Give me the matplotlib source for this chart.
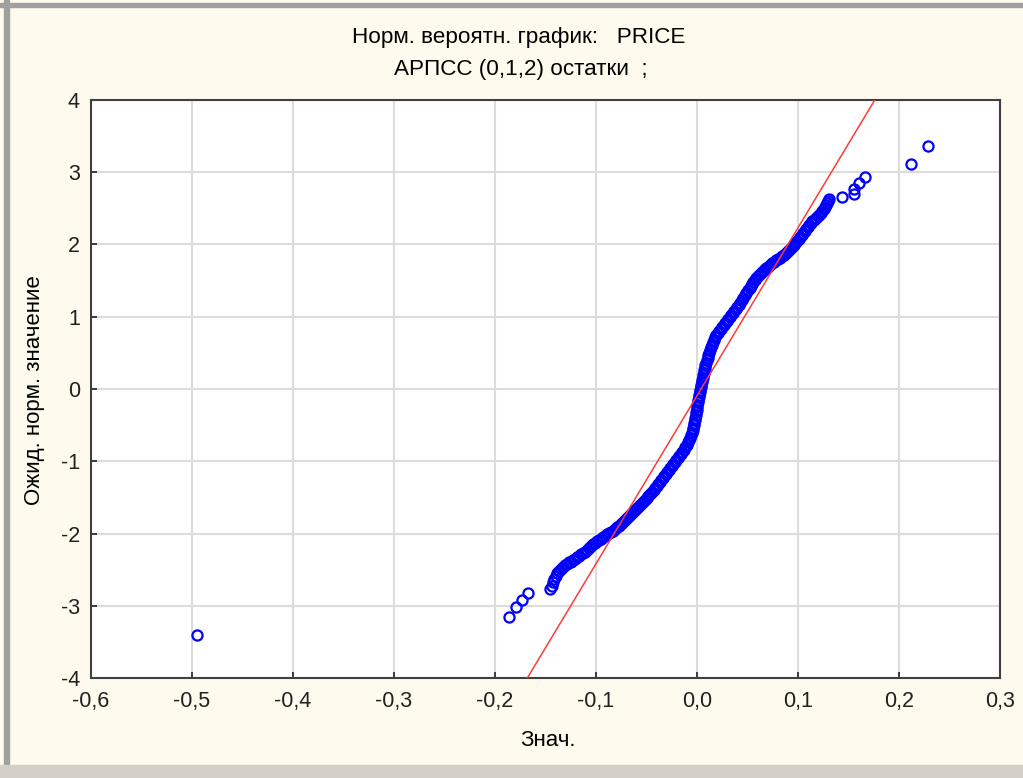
import numpy as np
import matplotlib
matplotlib.use("Agg")
import matplotlib.pyplot as plt
from matplotlib.ticker import FuncFormatter
from matplotlib.patches import Rectangle

plt.rcParams['font.family'] = ['Liberation Sans', 'DejaVu Sans']

# residuals (x) and expected normal values (y)
resid = [-0.495, -0.186, -0.179, -0.173, -0.167,
         # lower part of the band
         -0.1455, -0.1440, -0.1426, -0.1413, -0.1400, -0.1385, -0.1370, -0.1350, -0.1330, -0.1310,
         -0.1290, -0.1270, -0.1250, -0.1230, -0.1210, -0.1190, -0.1170, -0.1150, -0.1130, -0.1110,
         -0.1090, -0.1070, -0.1050, -0.1030, -0.1010, -0.0990, -0.0970, -0.0950, -0.0930, -0.0910,
         -0.0890, -0.0870, -0.0850, -0.0830, -0.0810, -0.0790, -0.0770, -0.0750, -0.0730, -0.0710,
         -0.0690, -0.0670, -0.0650, -0.0630, -0.0610, -0.0590, -0.0570, -0.0550, -0.0530, -0.0515,
         -0.0500, -0.0485, -0.0470, -0.0450, -0.0430, -0.0415, -0.0400, -0.0385, -0.0370, -0.0355,
         -0.0340, -0.0325, -0.0310, -0.0295, -0.0280, -0.0265, -0.0250, -0.0235, -0.0220, -0.0205,
         -0.0190, -0.0175, -0.0160, -0.0145, -0.0130,
         # steep middle
         -0.0115, -0.0099, -0.0089, -0.0079, -0.0069, -0.0059, -0.0050, -0.0040, -0.0035, -0.0030,
         -0.0025, -0.0020, -0.0015, -0.0010, -0.0005, 0.0000, 0.0000, 0.0000, 0.0005, 0.0010,
         0.0015, 0.0020, 0.0025, 0.0030, 0.0035, 0.0040, 0.0045, 0.0050, 0.0055, 0.0060,
         0.0065, 0.0070, 0.0075, 0.0080, 0.0090, 0.0100, 0.0105, 0.0110, 0.0120, 0.0130,
         0.0140, 0.0150, 0.0160, 0.0170, 0.0180, 0.0190, 0.0205, 0.0220,
         # upper part of the band
         0.0235, 0.0250, 0.0265, 0.0280, 0.0295, 0.0310, 0.0325, 0.0340, 0.0355, 0.0370,
         0.0385, 0.0400, 0.0415, 0.0430, 0.0445, 0.0460, 0.0475, 0.0490, 0.0505, 0.0520,
         0.0530, 0.0540, 0.0555, 0.0570, 0.0585, 0.0600, 0.0620, 0.0640, 0.0660, 0.0680,
         0.0700, 0.0720, 0.0740, 0.0760, 0.0780, 0.0800, 0.0820, 0.0840, 0.0860, 0.0880,
         0.0900, 0.0920, 0.0940, 0.0960, 0.0975, 0.0990, 0.1005, 0.1020, 0.1035, 0.1050,
         0.1065, 0.1080, 0.1095, 0.1110, 0.1125, 0.1140, 0.1160, 0.1180, 0.1195, 0.1210,
         0.1225, 0.1240, 0.1255, 0.1270, 0.1280, 0.1290, 0.1300, 0.1310,
         0.144, 0.155, 0.155, 0.160, 0.166, 0.212, 0.229]
expected = [-3.40, -3.15, -3.02, -2.92, -2.82,
            -2.77, -2.72, -2.67, -2.63, -2.59, -2.55, -2.52, -2.49, -2.46, -2.44,
            -2.42, -2.40, -2.39, -2.37, -2.35, -2.33, -2.31, -2.29, -2.27, -2.25,
            -2.23, -2.20, -2.17, -2.15, -2.13, -2.11, -2.09, -2.07, -2.05, -2.03,
            -2.01, -1.995, -1.98, -1.96, -1.94, -1.915, -1.89, -1.865, -1.84, -1.81,
            -1.78, -1.755, -1.73, -1.70, -1.67, -1.645, -1.62, -1.59, -1.56, -1.535,
            -1.51, -1.48, -1.45, -1.425, -1.40, -1.37, -1.34, -1.315, -1.29, -1.26,
            -1.23, -1.205, -1.18, -1.15, -1.12, -1.095, -1.07, -1.04, -1.01, -0.98,
            -0.95, -0.925, -0.90, -0.87, -0.84,
            -0.805, -0.77, -0.74, -0.71, -0.675, -0.64, -0.605, -0.57, -0.535, -0.50,
            -0.465, -0.43, -0.395, -0.36, -0.325, -0.29, -0.255, -0.22, -0.185, -0.15,
            -0.115, -0.08, -0.045, -0.01, 0.025, 0.06, 0.09, 0.12, 0.155, 0.19,
            0.225, 0.26, 0.295, 0.33, 0.365, 0.40, 0.435, 0.47, 0.505, 0.54,
            0.575, 0.61, 0.645, 0.68, 0.715, 0.75, 0.775, 0.80,
            0.83, 0.86, 0.885, 0.91, 0.94, 0.97, 0.995, 1.02, 1.05, 1.08,
            1.105, 1.13, 1.16, 1.19, 1.225, 1.26, 1.295, 1.33, 1.365, 1.40,
            1.425, 1.45, 1.48, 1.51, 1.535, 1.56, 1.59, 1.62, 1.645, 1.67,
            1.695, 1.72, 1.74, 1.76, 1.78, 1.80, 1.82, 1.84, 1.86, 1.88,
            1.91, 1.94, 1.965, 1.99, 2.02, 2.05, 2.075, 2.10, 2.13, 2.16,
            2.185, 2.21, 2.24, 2.27, 2.295, 2.32, 2.345, 2.37, 2.39, 2.41,
            2.435, 2.46, 2.49, 2.52, 2.545, 2.57, 2.60, 2.63,
            2.66, 2.70, 2.77, 2.85, 2.94, 3.11, 3.36]

# fitted normal line
mu = 0.004
sigma = 0.043

xticks = [-0.6, -0.5, -0.4, -0.3, -0.2, -0.1, 0.0, 0.1, 0.2, 0.3]
yticks = [-4, -3, -2, -1, 0, 1, 2, 3, 4]

fig = plt.figure(figsize=(10.23, 7.78), dpi=100, facecolor='#fffaee')
ax = fig.add_axes([91/1023, 1-678/778, 909/1023, 578/778])
ax.set_facecolor('white')

ax.plot(resid, expected, linestyle='none', marker='o', ms=7.3, mfc='none',
        mec='#0000ff', mew=1.6, zorder=3)
ly = np.array([-4.0, 4.0])
ax.plot(mu + sigma*ly, ly, color='#ff3b3b', lw=1.1, zorder=4)

ax.set_xlim(-0.6, 0.3)
ax.set_ylim(-4, 4)
ax.set_xticks(xticks)
ax.set_yticks(yticks)
ax.xaxis.set_major_formatter(FuncFormatter(lambda v, p: ('%.1f' % v).replace('.', ',')))
ax.yaxis.set_major_formatter(FuncFormatter(lambda v, p: '%d' % v))
ax.grid(True, color='#dcdcdc', lw=1.5)
ax.set_axisbelow(True)
ax.tick_params(direction='in', length=4, width=1.2, labelsize=15.5, colors='#202020')
ax.tick_params(axis='x', pad=9)
ax.tick_params(axis='y', pad=8)
for s in ax.spines.values():
    s.set_color('#404040')
    s.set_linewidth(1.5)

fig.text(519/1023, 1-37/778, 'Норм. вероятн. график:   PRICE', ha='center', va='center', fontsize=16.2)
fig.text(521/1023, 1-69/778, 'АРПСС (0,1,2) остатки  ;', ha='center', va='center', fontsize=16.2)
fig.text(548/1023, 1-741/778, 'Знач.', ha='center', va='center', fontsize=16)
fig.text(35/1023, 1-390/778, 'Ожид. норм. значение', ha='center', va='center',
         rotation=90, fontsize=16)

# window frame bits from the screenshot
fig.patches.append(Rectangle((4/1023, 0), 5/1023, 1, transform=fig.transFigure,
                             color='#a0a0a0', zorder=0))
fig.patches.append(Rectangle((0, 1-7/778), 1, 4/778, transform=fig.transFigure,
                             color='#a0a0a0', zorder=0))
fig.patches.append(Rectangle((0, 0), 1, 13/778, transform=fig.transFigure,
                             color='#d4d0c8', zorder=0))

fig.savefig('out.png', dpi=100, facecolor=fig.get_facecolor())
